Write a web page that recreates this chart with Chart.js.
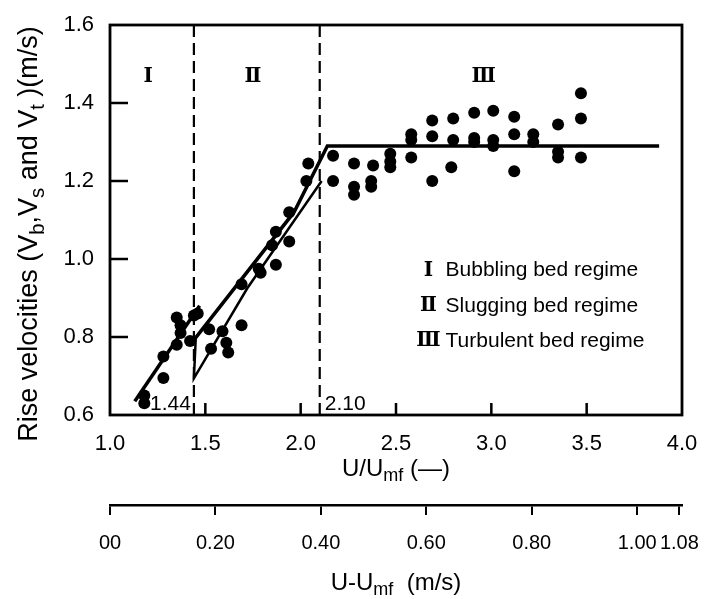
<!DOCTYPE html>
<html>
<head>
<meta charset="utf-8">
<script src="https://cdn.jsdelivr.net/npm/chart.js@4.4.1/dist/chart.umd.min.js"></script>
<style>
  html, body { margin: 0; padding: 0; background: #fff; }
  #wrap { width: 707px; height: 599px; position: relative; }
</style>
</head>
<body>
<div id="wrap"><canvas id="chart"></canvas></div>
<script>
// --- values ---
// regime I : bubbling bed
const bubX = [1.18, 1.18, 1.28, 1.28, 1.35, 1.35, 1.37, 1.37, 1.42];
const bubY = [0.63, 0.65, 0.695, 0.75, 0.78, 0.85, 0.83, 0.81, 0.79];
// regime II : slugging bed
const slugX = [1.44, 1.46, 1.52, 1.53, 1.59, 1.61, 1.62, 1.69, 1.69, 1.78, 1.79, 1.87, 1.85, 1.87, 1.94, 1.94, 2.03, 2.04];
const slugY = [0.855, 0.86, 0.82, 0.77, 0.815, 0.785, 0.76, 0.83, 0.935, 0.975, 0.965, 0.985, 1.035, 1.07, 1.045, 1.12, 1.20, 1.245];
// regime III : turbulent bed
const turbX = [2.17, 2.17, 2.28, 2.28, 2.28, 2.38, 2.37, 2.37, 2.47, 2.47, 2.47, 2.58, 2.58, 2.58,
  2.69, 2.69, 2.69, 2.80, 2.80, 2.79, 2.91, 2.91, 2.91, 3.01, 3.01, 3.01, 3.12, 3.12, 3.12,
  3.22, 3.22, 3.35, 3.35, 3.35, 3.47, 3.47, 3.47];
const turbY = [1.265, 1.20, 1.245, 1.185, 1.165, 1.24, 1.20, 1.185, 1.27, 1.25, 1.235, 1.32, 1.305, 1.26,
  1.355, 1.315, 1.20, 1.36, 1.305, 1.235, 1.375, 1.31, 1.30, 1.38, 1.305, 1.29, 1.365, 1.32, 1.225,
  1.32, 1.30, 1.345, 1.275, 1.26, 1.425, 1.36, 1.26];

// fitted lines
const bubLineX = [1.13, 1.47];
const bubLineY = [0.635, 0.88];
const slugLineX = [1.42, 1.965, 2.14, 3.88];
const slugLineY = [0.78, 1.12, 1.29, 1.29];
const wedgeLineX = [1.45, 1.44, 1.72, 2.11];
const wedgeLineY = [0.80, 0.694, 0.925, 1.20];

// regime boundaries (dashed)
const boundaryX = [1.44, 2.10];
const boundaryLabels = ['1.44', '2.10'];

// axes
const xTicks = [1.0, 1.5, 2.0, 2.5, 3.0, 3.5, 4.0];
const yTicks = [0.6, 0.8, 1.0, 1.2, 1.4, 1.6];
const x2Ticks = [0, 0.2, 0.4, 0.6, 0.8, 1.0, 1.08];
const x2Labels = ['00', '0.20', '0.40', '0.60', '0.80', '1.00', '1.08'];

// annotations
const regimeNames = ['Ⅰ', 'Ⅱ', 'Ⅲ'];
const regimeNameX = [1.2, 1.75, 2.96];
const legendTexts = ['Bubbling bed regime', 'Slugging bed regime', 'Turbulent bed regime'];
const legendY = [0.97, 0.88, 0.79];

const FONT = '"Liberation Sans", Arial, sans-serif';
const pts = (xs, ys) => xs.map((v, i) => ({ x: v, y: ys[i] }));

const dotStyle = { type: 'scatter', pointRadius: 6, pointHoverRadius: 6, backgroundColor: '#000', borderWidth: 0, showLine: false };
const lineStyle = { type: 'line', showLine: true, pointRadius: 0, borderColor: '#000', borderWidth: 3.5, fill: false, tension: 0 };

const datasets = [
  { ...dotStyle, label: 'Bubbling', data: pts(bubX, bubY) },
  { ...dotStyle, label: 'Slugging', data: pts(slugX, slugY) },
  { ...dotStyle, label: 'Turbulent', data: pts(turbX, turbY) },
  { ...lineStyle, label: 'bubbling fit', data: pts(bubLineX, bubLineY) },
  { ...lineStyle, label: 'slugging fit', data: pts(slugLineX, slugLineY) },
  { ...lineStyle, label: 'slugging fit 2', data: pts(wedgeLineX, wedgeLineY), borderWidth: 2.5 },
];
boundaryX.forEach(b => datasets.push({
  ...lineStyle, label: 'U/Umf = ' + b, borderWidth: 2.2, borderDash: [12, 6],
  data: [{ x: b, y: yTicks[0] }, { x: b, y: yTicks[yTicks.length - 1] }]
}));

// draw a string with subscript parts: parts = [[text, isSub], ...]
function richWidth(ctx, parts, size) {
  let w = 0;
  parts.forEach(([t, sub]) => { ctx.font = (sub ? size * 0.75 : size) + 'px ' + FONT; w += ctx.measureText(t).width; });
  return w;
}
function richText(ctx, parts, size, cx, cy) {
  let x = cx - richWidth(ctx, parts, size) / 2;
  ctx.textBaseline = 'middle';
  ctx.textAlign = 'left';
  parts.forEach(([t, sub]) => {
    ctx.font = (sub ? size * 0.75 : size) + 'px ' + FONT;
    ctx.fillText(t, x, sub ? cy + size * 0.3 : cy);
    x += ctx.measureText(t).width;
  });
}

const decor = {
  id: 'decor',
  afterDatasetsDraw(chart) {
    const { ctx, chartArea: a, scales: { x, y } } = chart;
    ctx.save();
    ctx.strokeStyle = '#000';
    ctx.fillStyle = '#000';
    ctx.lineWidth = 2.8;
    ctx.strokeRect(a.left, a.top, a.right - a.left, a.bottom - a.top);

    // inward tick marks
    ctx.lineWidth = 2.5;
    ctx.beginPath();
    yTicks.slice(1, -1).forEach(v => {
      const py = y.getPixelForValue(v);
      ctx.moveTo(a.left, py); ctx.lineTo(a.left + 18, py);
    });
    xTicks.slice(1, -1).forEach(v => {
      const px = x.getPixelForValue(v);
      ctx.moveTo(px, a.bottom); ctx.lineTo(px, a.bottom - 12);
    });
    ctx.stroke();

    // boundary values
    ctx.font = '21px ' + FONT;
    ctx.textBaseline = 'middle';
    ctx.textAlign = 'right';
    ctx.fillText(boundaryLabels[0], x.getPixelForValue(boundaryX[0]) - 3, y.getPixelForValue(0.628));
    ctx.textAlign = 'left';
    ctx.fillText(boundaryLabels[1], x.getPixelForValue(boundaryX[1]) + 5, y.getPixelForValue(0.628));

    // regime numerals along the top
    ctx.font = 'bold 20px "DejaVu Serif", serif';
    ctx.textAlign = 'center';
    regimeNames.forEach((n, i) => ctx.fillText(n, x.getPixelForValue(regimeNameX[i]), y.getPixelForValue(1.468)));

    // in-plot legend
    legendTexts.forEach((t, i) => {
      const py = y.getPixelForValue(legendY[i]);
      ctx.font = 'bold 20px "DejaVu Serif", serif';
      ctx.textAlign = 'center';
      ctx.fillText(regimeNames[i], x.getPixelForValue(2.67), py);
      ctx.font = '21px ' + FONT;
      ctx.textAlign = 'left';
      ctx.fillText(t, x.getPixelForValue(2.76), py);
    });

    // axis titles with subscripts
    const cx = (a.left + a.right) / 2;
    richText(ctx, [['U/U', 0], ['mf', 1], [' (—)', 0]], 24, cx, 469);
    richText(ctx, [['U-U', 0], ['mf', 1], ['  (m/s)', 0]], 24, cx, 583);
    ctx.save();
    ctx.translate(30, (a.top + a.bottom) / 2 + 14);
    ctx.rotate(-Math.PI / 2);
    richText(ctx, [['Rise velocities (V', 0], ['b', 1], [',V', 0], ['s', 1], [' and V', 0], ['t', 1], [' )(m/s)', 0]], 27, 0, 0);
    ctx.restore();
    ctx.restore();
  }
};

const noPad = s => { s.paddingLeft = 0; s.paddingRight = 0; };

new Chart(document.getElementById('chart'), {
  type: 'scatter',
  data: { datasets },
  plugins: [decor],
  options: {
    responsive: true,
    maintainAspectRatio: false,
    animation: false,
    layout: { padding: { top: 25, right: 25, left: 0, bottom: 0 } },
    plugins: { legend: { display: false }, tooltip: { enabled: false } },
    scales: {
      x: {
        type: 'linear', position: 'bottom', weight: 0, min: 1, max: 4,
        afterBuildTicks: s => { s.ticks = xTicks.map(v => ({ value: v })); },
        afterFit: s => { s.height = 90; noPad(s); },
        grid: { display: false }, border: { display: false },
        ticks: { color: '#000', font: { family: FONT, size: 22 }, padding: 8, maxRotation: 0, autoSkip: false, callback: v => v.toFixed(1) }
      },
      x2: {
        type: 'linear', position: 'bottom', weight: 1, min: 0, max: 1.085,
        afterBuildTicks: s => { s.ticks = x2Ticks.map(v => ({ value: v })); },
        afterFit: s => { s.height = 94; noPad(s); },
        grid: { display: true, drawOnChartArea: false, drawTicks: true, tickLength: 10, color: '#000', lineWidth: 2 },
        border: { display: true, color: '#000', width: 2.5 },
        ticks: { color: '#000', font: { family: FONT, size: 20 }, padding: 16, maxRotation: 0, autoSkip: false, callback: (v, i) => x2Labels[i] }
      },
      y: {
        type: 'linear', position: 'left', min: 0.6, max: 1.6,
        afterBuildTicks: s => { s.ticks = yTicks.map(v => ({ value: v })); },
        afterFit: s => { s.width = 110; },
        grid: { display: false }, border: { display: false },
        ticks: { color: '#000', font: { family: FONT, size: 22 }, padding: 8, callback: v => v.toFixed(1) }
      }
    }
  }
});
</script>
</body>
</html>
